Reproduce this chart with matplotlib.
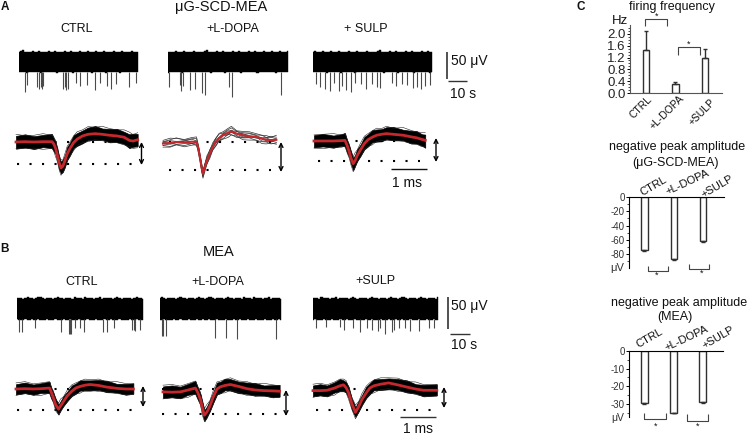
import numpy as np
from matplotlib import pyplot as plt

plt.rcParams['font.family'] = ['Liberation Sans', 'DejaVu Sans']
plt.rcParams['axes.unicode_minus'] = False

W, H = 748, 436
RED = '#c4282c'

# raster spikes: time (s), negative peak (uV)
a_ctrl_t = [3.0, 3.9, 8.9, 10.2, 11.0, 11.4, 12.2, 22.3, 23.1, 23.5, 24.8, 28.6, 30.7, 34.3, 38.5, 40.7, 44.4, 46.6, 49.1, 55.4, 58.8]
a_ctrl_v = [-56, -44, -47, -50, -46, -50, -45, -50, -46, -53, -50, -40, -45, -44, -53, -40, -45, -50, -42, -47, -40]
a_ldopa_t = [0.7, 6.2, 6.7, 7.3, 11.2, 13.7, 17.0, 18.7, 30.3, 32.0, 56.7]
a_ldopa_v = [-47, -44, -54, -45, -53, -50, -58, -62, -46, -65, -62]
a_sulp_t = [1.5, 3.7, 5.9, 8.7, 10.4, 12.9, 14.6, 16.6, 19.2, 21.2, 24.1, 26.8, 29.6, 32.5, 33.8, 39.6, 41.8, 44.7, 47.5, 50.5, 52.2, 54.7, 56.4, 58.9]
a_sulp_v = [-42, -47, -50, -55, -40, -55, -45, -52, -56, -40, -42, -50, -42, -46, -48, -40, -45, -42, -44, -48, -46, -50, -45, -44]
b_ctrl_t = [1.1, 2.4, 8.4, 21.1, 24.6, 25.2, 25.7, 27.7, 29.8, 31.7, 40.8, 42.9, 46.3, 54.8, 55.6, 56.4, 58.7]
b_ctrl_v = [-36, -36, -30, -35, -38, -38, -38, -30, -30, -36, -36, -36, -30, -33, -33, -34, -33]
b_ldopa_t = [0.8, 1.7, 2.8, 27.4, 32.8, 38.4, 57.7]
b_ldopa_v = [-42, -42, -42, -45, -45, -46, -47]
b_sulp_t = [1.4, 6.2, 13.1, 14.7, 19.0, 22.4, 25.9, 28.3, 31.0, 32.3, 34.4, 37.9, 39.0, 41.1, 44.3, 46.7, 50.7, 55.5, 58.2]
b_sulp_v = [-30, -28, -28, -32, -30, -36, -30, -32, -34, -30, -38, -36, -32, -30, -30, -34, -34, -30, -30]

# band edges around the noise, uV beyond the band
edge_up = [2, 6, 9, 3, 1, 4, 2, 5, 1, 3, 7, 2, 4, 1, 3, 5, 2, 1, 6, 3, 2, 4, 1, 8, 3, 2, 5, 1, 4, 2,
           6, 1, 3, 2, 5, 3, 1, 4, 7, 2, 1, 3, 5, 2, 4, 1, 3, 6, 2, 4, 1, 5, 2, 3, 1, 4, 6, 2, 3, 1]
edge_dn = [3, 1, 4, 2, 5, 1, 3, 2, 4, 1, 2, 5, 3, 1, 2, 4, 1, 3, 2, 5, 1, 2, 4, 3, 1, 2, 3, 5, 1, 4,
           2, 3, 1, 4, 2, 1, 5, 3, 2, 1, 4, 2, 3, 5, 1, 2, 4, 1, 3, 2, 5, 1, 3, 2, 4, 1, 2, 3, 1, 4]

# spike waveforms: time (ms), mean (uV)
wa_ctrl_t = [0, .25, .5, .75, 1.0, 1.05, 1.1, 1.15, 1.2, 1.25, 1.3, 1.36, 1.42, 1.5, 1.6, 1.7, 1.85, 2.0, 2.2, 2.4, 2.6, 2.8, 3.0, 3.15, 3.25, 3.38]
wa_ctrl_v = [0, 1, 0, 1, 1, -6, -20, -42, -65, -81, -76, -58, -38, -20, -2, 9, 19, 24, 26, 24, 21, 19, 15, 5, 3, 7]
wa_ldopa_t = [0, .2, .37, .6, .8, .93, .98, 1.03, 1.07, 1.11, 1.16, 1.22, 1.3, 1.38, 1.46, 1.56, 1.67, 1.8, 1.9, 2.05, 2.22, 2.4, 2.59, 2.75, 2.87, 3.0, 3.15]
wa_ldopa_v = [-5, -3, 0, -1, 1, 0, -18, -50, -78, -99, -80, -58, -36, -16, 0, 12, 22, 29, 33, 26, 21, 18, 16, 10, 7, 6, 7]
wa_sulp_t = [0, .25, .54, .75, .86, .92, .98, 1.03, 1.09, 1.14, 1.2, 1.3, 1.4, 1.5, 1.62, 1.74, 1.88, 2.01, 2.2, 2.48, 2.7, 2.85, 3.0, 3.09]
wa_sulp_v = [0, 0, 0, 1, 2, -14, -34, -54, -71, -62, -46, -26, -8, 4, 12, 18, 21, 23, 21, 18, 13, 10, 5, 2]
wb_ctrl_t = [0, .25, .48, .7, .93, .98, 1.04, 1.1, 1.18, 1.24, 1.32, 1.42, 1.55, 1.66, 1.78, 1.92, 2.06, 2.3, 2.52, 2.8, 3.05, 3.26]
wb_ctrl_v = [0, 1, 0, 1, 3, -10, -28, -48, -63, -53, -39, -22, -7, 3, 8, 12, 14, 11, 6, 2, 0, 0]
wb_ldopa_t = [0, .25, .48, .7, .9, .97, 1.04, 1.1, 1.15, 1.22, 1.3, 1.4, 1.5, 1.6, 1.72, 1.87, 2.1, 2.33, 2.55, 2.8, 3.05, 3.24]
wb_ldopa_v = [-9, -10, -9, -3, 3, -12, -33, -62, -82, -72, -54, -24, 0, 7, 11, 14, 8, 1, -3, -5, -6, -7]
wb_sulp_t = [0, .2, .39, .6, .75, .85, .92, .99, 1.08, 1.18, 1.27, 1.36, 1.48, 1.58, 1.69, 1.88, 2.1, 2.35, 2.61, 2.85, 3.07, 3.44]
wb_sulp_v = [-5, -5, -4, 3, 10, 13, 4, -12, -46, -73, -55, -33, -12, 3, 10, 15, 19, 13, 6, 0, -4, -4]
# jitter on the edges of the overlaid spike bundle, uV
jag_up = [3, 7, 2, 5, 8, 1, 4, 6, 2, 3, 5, 1, 6, 2, 7, 3, 1, 5, 8, 2, 4, 6, 1, 3, 7, 2, 5]
jag_dn = [5, 2, 6, 1, 4, 7, 2, 3, 5, 1, 2, 4, 3, 6, 1, 5, 7, 2, 4, 1, 6, 3, 5, 8, 2, 4, 1]

# bar charts
groups = ['CTRL', '+L-DOPA', '+SULP']
freq_vals = [1.45, 0.30, 1.18]
freq_errs = [0.65, 0.08, 0.30]
amp_scd_vals = [-75, -87, -62]
amp_scd_errs = [1, 2, 1]
amp_mea_vals = [-29.6, -35, -29]
amp_mea_errs = [0.3, 0.3, 0.3]


def ax_px(fig, x0, y0, x1, y1):
    # axes placed by pixel box, y counted from the top
    ax = fig.add_axes([x0 / W, 1 - y1 / H, (x1 - x0) / W, (y1 - y0) / H])
    ax.patch.set_alpha(0)
    return ax


def raster(fig, x0, x1, yc, scale, half, times, vals, roll):
    ax = ax_px(fig, x0, yc - 24, x1, yc + 40)
    ax.axis('off')
    ax.set_xlim(0, 60)
    ax.set_ylim(-40 / scale, 24 / scale)
    t = np.linspace(0, 60, len(edge_up))
    ax.vlines(times, vals, -half, color='#4a4a4a', lw=0.8)
    ax.fill_between(t, -half - np.roll(edge_dn, roll) * 0.4, half + np.roll(edge_up, roll) * 0.4,
                    color='black', lw=0.3, step='mid')


def waveform(fig, x0, yb, t, v, spread, amp, dots, thin=False):
    # 36 px per ms, 0.32 px per uV
    ax = ax_px(fig, x0 - 5, yb - 30, x0 + 135, yb + 40)
    ax.axis('off')
    ax.set_xlim(-5 / 36, 135 / 36)
    ax.set_ylim(-40 / 0.32, 30 / 0.32)
    v = np.array(v)
    up = np.resize(jag_up, len(t))
    dn = np.resize(jag_dn, len(t))
    ax.plot([dots[0], dots[1]], [0, 0], color='black', lw=1.5, ls=(0, (1, 5)))
    ax.plot([dots[0], dots[1]], [-amp, -amp], color='black', lw=1.5, ls=(0, (1, 5)))
    if thin:
        for off, k in ((-12, 1), (-9, 3), (-5, 4), (-2, 9), (2, 6), (5, 7), (9, 11), (12, 14)):
            ax.plot(t, v + off + np.roll(up, k) - 4, color='#333333', lw=0.5)
    else:
        ax.fill_between(t, v - spread - dn, v + spread + up, color='black', lw=0.5)
        ax.plot(t, v + spread + np.roll(up, 5) + 2, color='#222222', lw=0.4)
        ax.plot(t, v - spread - np.roll(dn, 9) - 2, color='#222222', lw=0.4)
    ax.plot(t, v, color=RED, lw=2 if not thin else 1.5)


def barpanel(fig, box, ylim, vals, errs, xlim, width):
    ax = ax_px(fig, *box)
    ax.set_xlim(*xlim)
    ax.set_ylim(*ylim)
    x = np.arange(len(vals))
    ax.bar(x, vals, width=width, facecolor='white', edgecolor='#303030', lw=1.0)
    ax.set_xticks([])
    for s in ('top', 'right'):
        ax.spines[s].set_visible(False)
    return ax, x


def main():
    fig = plt.figure(figsize=(W / 100, H / 100), dpi=100)

    raster(fig, 19, 138, 62, 0.533, 18, a_ctrl_t, a_ctrl_v, 0)
    raster(fig, 168, 288, 62, 0.533, 18, a_ldopa_t, a_ldopa_v, 17)
    raster(fig, 313, 432, 62, 0.533, 18, a_sulp_t, a_sulp_v, 31)
    raster(fig, 17, 143, 309, 0.647, 15.5, b_ctrl_t, b_ctrl_v, 9)
    raster(fig, 160, 281, 309, 0.647, 15.5, b_ldopa_t, b_ldopa_v, 23)
    raster(fig, 313, 438, 309, 0.647, 15.5, b_sulp_t, b_sulp_v, 41)

    waveform(fig, 16, 142, wa_ctrl_t, wa_ctrl_v, 16, 69, (0.03, 3.3))
    waveform(fig, 163, 142, wa_ldopa_t, wa_ldopa_v, 7, 88, (0.17, 3.0), thin=True)
    waveform(fig, 314, 141, wa_sulp_t, wa_sulp_v, 15, 63, (0.11, 2.95))
    waveform(fig, 16, 389, wb_ctrl_t, wb_ctrl_v, 12, 66, (0.03, 3.3))
    waveform(fig, 163, 389, wb_ldopa_t, wb_ldopa_v, 14, 78, (-0.03, 3.27))
    waveform(fig, 313, 389, wb_sulp_t, wb_sulp_v, 13, 66, (0.08, 3.38))

    # firing frequency
    ax, x = barpanel(fig, (630, 25, 722, 93), (0, 2.3), freq_vals, freq_errs, (-0.54, 2.58), 0.22)
    ax.errorbar(x, freq_vals, yerr=[[0, 0, 0], freq_errs], fmt='none', ecolor='#303030', elinewidth=1.0, capsize=1.5)
    ax.set_yticks(np.arange(0, 2.1, 0.4))
    ax.set_yticks(np.arange(0, 2.3, 0.1), minor=True)
    ax.set_yticklabels(['%.1f' % v for v in np.arange(0, 2.1, 0.4)], fontsize=9.5, color='#222222')
    ax.tick_params(axis='y', which='major', length=2, pad=1, width=0.7)
    ax.tick_params(axis='y', which='minor', length=1.2, width=0.5)
    for s in ('left', 'bottom'):
        ax.spines[s].set_color('#555555')

    # negative peak, uG-SCD-MEA
    ax, x = barpanel(fig, (629, 197, 724, 268), (-99.6, 0), amp_scd_vals, amp_scd_errs, (-0.53, 2.72), 0.22)
    ax.errorbar(x, amp_scd_vals, yerr=[amp_scd_errs, [0, 0, 0]], fmt='none', ecolor='#303030', elinewidth=0.8, capsize=1.5)
    ax.spines['top'].set_visible(True)
    ax.spines['bottom'].set_visible(False)
    ax.set_yticks([0, -20, -40, -60, -80])
    ax.set_yticks(np.arange(-90, 1, 10), minor=True)
    ax.tick_params(axis='y', which='major', length=2, pad=1, width=0.7, labelsize=7, labelcolor='#333333')
    ax.tick_params(axis='y', which='minor', length=1.2, width=0.5)

    # negative peak, MEA
    ax, x = barpanel(fig, (629, 351, 723, 417), (-37.4, 0), amp_mea_vals, amp_mea_errs, (-0.53, 2.7), 0.22)
    ax.errorbar(x, amp_mea_vals, yerr=[amp_mea_errs, [0, 0, 0]], fmt='none', ecolor='#303030', elinewidth=0.8, capsize=1.5)
    ax.spines['top'].set_visible(True)
    ax.spines['bottom'].set_visible(False)
    ax.set_yticks([0, -10, -20, -30])
    ax.set_yticks(np.arange(-35, 1, 5), minor=True)
    ax.tick_params(axis='y', which='major', length=2, pad=1, width=0.7, labelsize=7, labelcolor='#333333')
    ax.tick_params(axis='y', which='minor', length=1.2, width=0.5)

    # overlay in pixel coordinates for labels and scale bars
    ov = fig.add_axes([0, 0, 1, 1], zorder=5)
    ov.axis('off')
    ov.patch.set_alpha(0)
    ov.set_xlim(0, W)
    ov.set_ylim(H, 0)

    def txt(x, y, s, size=9, ha='center', **kw):
        ov.text(x, y, s, fontsize=size, ha=ha, va='center', color=kw.pop('color', '#111111'), **kw)

    def seg(xs, ys, c='#333333', lw=1.0):
        ov.plot(xs, ys, color=c, lw=lw, solid_capstyle='butt')

    def arrow(x, y0, y1):
        ov.annotate('', xy=(x, y0), xytext=(x, y1),
                    arrowprops=dict(arrowstyle='<->', lw=1.0, color='black', mutation_scale=7, shrinkA=0, shrinkB=0))

    def bracket(x0, x1, y0, y1):
        seg([x0, x0, x1, x1], [y1, y0, y0, y1], lw=0.8, c='#444444')

    txt(5, 7, 'A', 8.5, weight='bold')
    txt(5, 249, 'B', 8.5, weight='bold')
    txt(581, 7, 'C', 8.5, weight='bold')

    txt(221, 7, '\u03bcG-SCD-MEA', 10.5)
    txt(77, 29, 'CTRL', 9)
    txt(233, 29, '+L-DOPA', 9)
    txt(366, 29, '+ SULP', 9)
    txt(219, 252, 'MEA', 10.5)
    txt(82, 282, 'CTRL', 9)
    txt(218, 282, '+L-DOPA', 9)
    txt(375, 281, '+SULP', 9)

    seg([447, 447], [52, 79], lw=1.2)
    txt(451, 61, '50 \u03bcV', 10, ha='left')
    seg([448, 467], [81, 81])
    txt(463, 94, '10 s', 10)
    seg([391, 427], [169, 169], c='#111111')
    txt(407, 183, '1 ms', 10)

    seg([448, 448], [297, 329], lw=1.2)
    txt(451, 306, '50 \u03bcV', 10, ha='left')
    seg([450, 470], [334, 334])
    txt(464, 345, '10 s', 10)
    seg([400, 436], [417, 417])
    txt(418, 429, '1 ms', 10)

    arrow(141.5, 142, 165)
    arrow(281, 142, 172)
    arrow(436, 138, 162)
    arrow(143, 386, 407)
    arrow(286, 390, 416)
    arrow(444, 387, 408)

    txt(672, 7, 'firing frequency', 9)
    txt(677, 147, 'negative peak amplitude', 9)
    txt(676, 163, '(\u03bcG-SCD-MEA)', 9)
    txt(679, 303, 'negative peak amplitude', 9)
    txt(675, 317, '(MEA)', 9)
    txt(612, 21, 'Hz', 9.5, ha='left')
    txt(610, 268, '\u03bcV', 8, ha='left', color='#333333')
    txt(611, 418, '\u03bcV', 7.5, ha='left', color='#333333')

    for (cx, cy), s in zip([(641, 107), (667, 112), (702, 112)], groups):
        txt(cx, cy, s, 7.5, rotation=45)
    for (cx, cy), s, rot in zip([(653, 186), (687, 182), (717, 187)], groups, (30, 25, 30)):
        txt(cx, cy, s, 8, rotation=rot)
    for (cx, cy), s, rot in zip([(649, 338), (686, 338), (718, 338)], groups, (30, 25, 30)):
        txt(cx, cy, s, 8, rotation=rot)

    bracket(645, 667, 19, 26)
    bracket(678, 700, 47, 55)
    bracket(648, 668, 271, 266)
    bracket(689, 709, 269, 264)
    bracket(644, 666, 419, 413)
    bracket(687, 708, 421, 414)
    for sx, sy in [(657, 16), (689, 44), (657, 275), (702, 273), (656, 426), (698, 426)]:
        txt(sx, sy, '*', 6.5)

    fig.savefig('out.png', dpi=100)


if __name__ == "__main__":
    main()
